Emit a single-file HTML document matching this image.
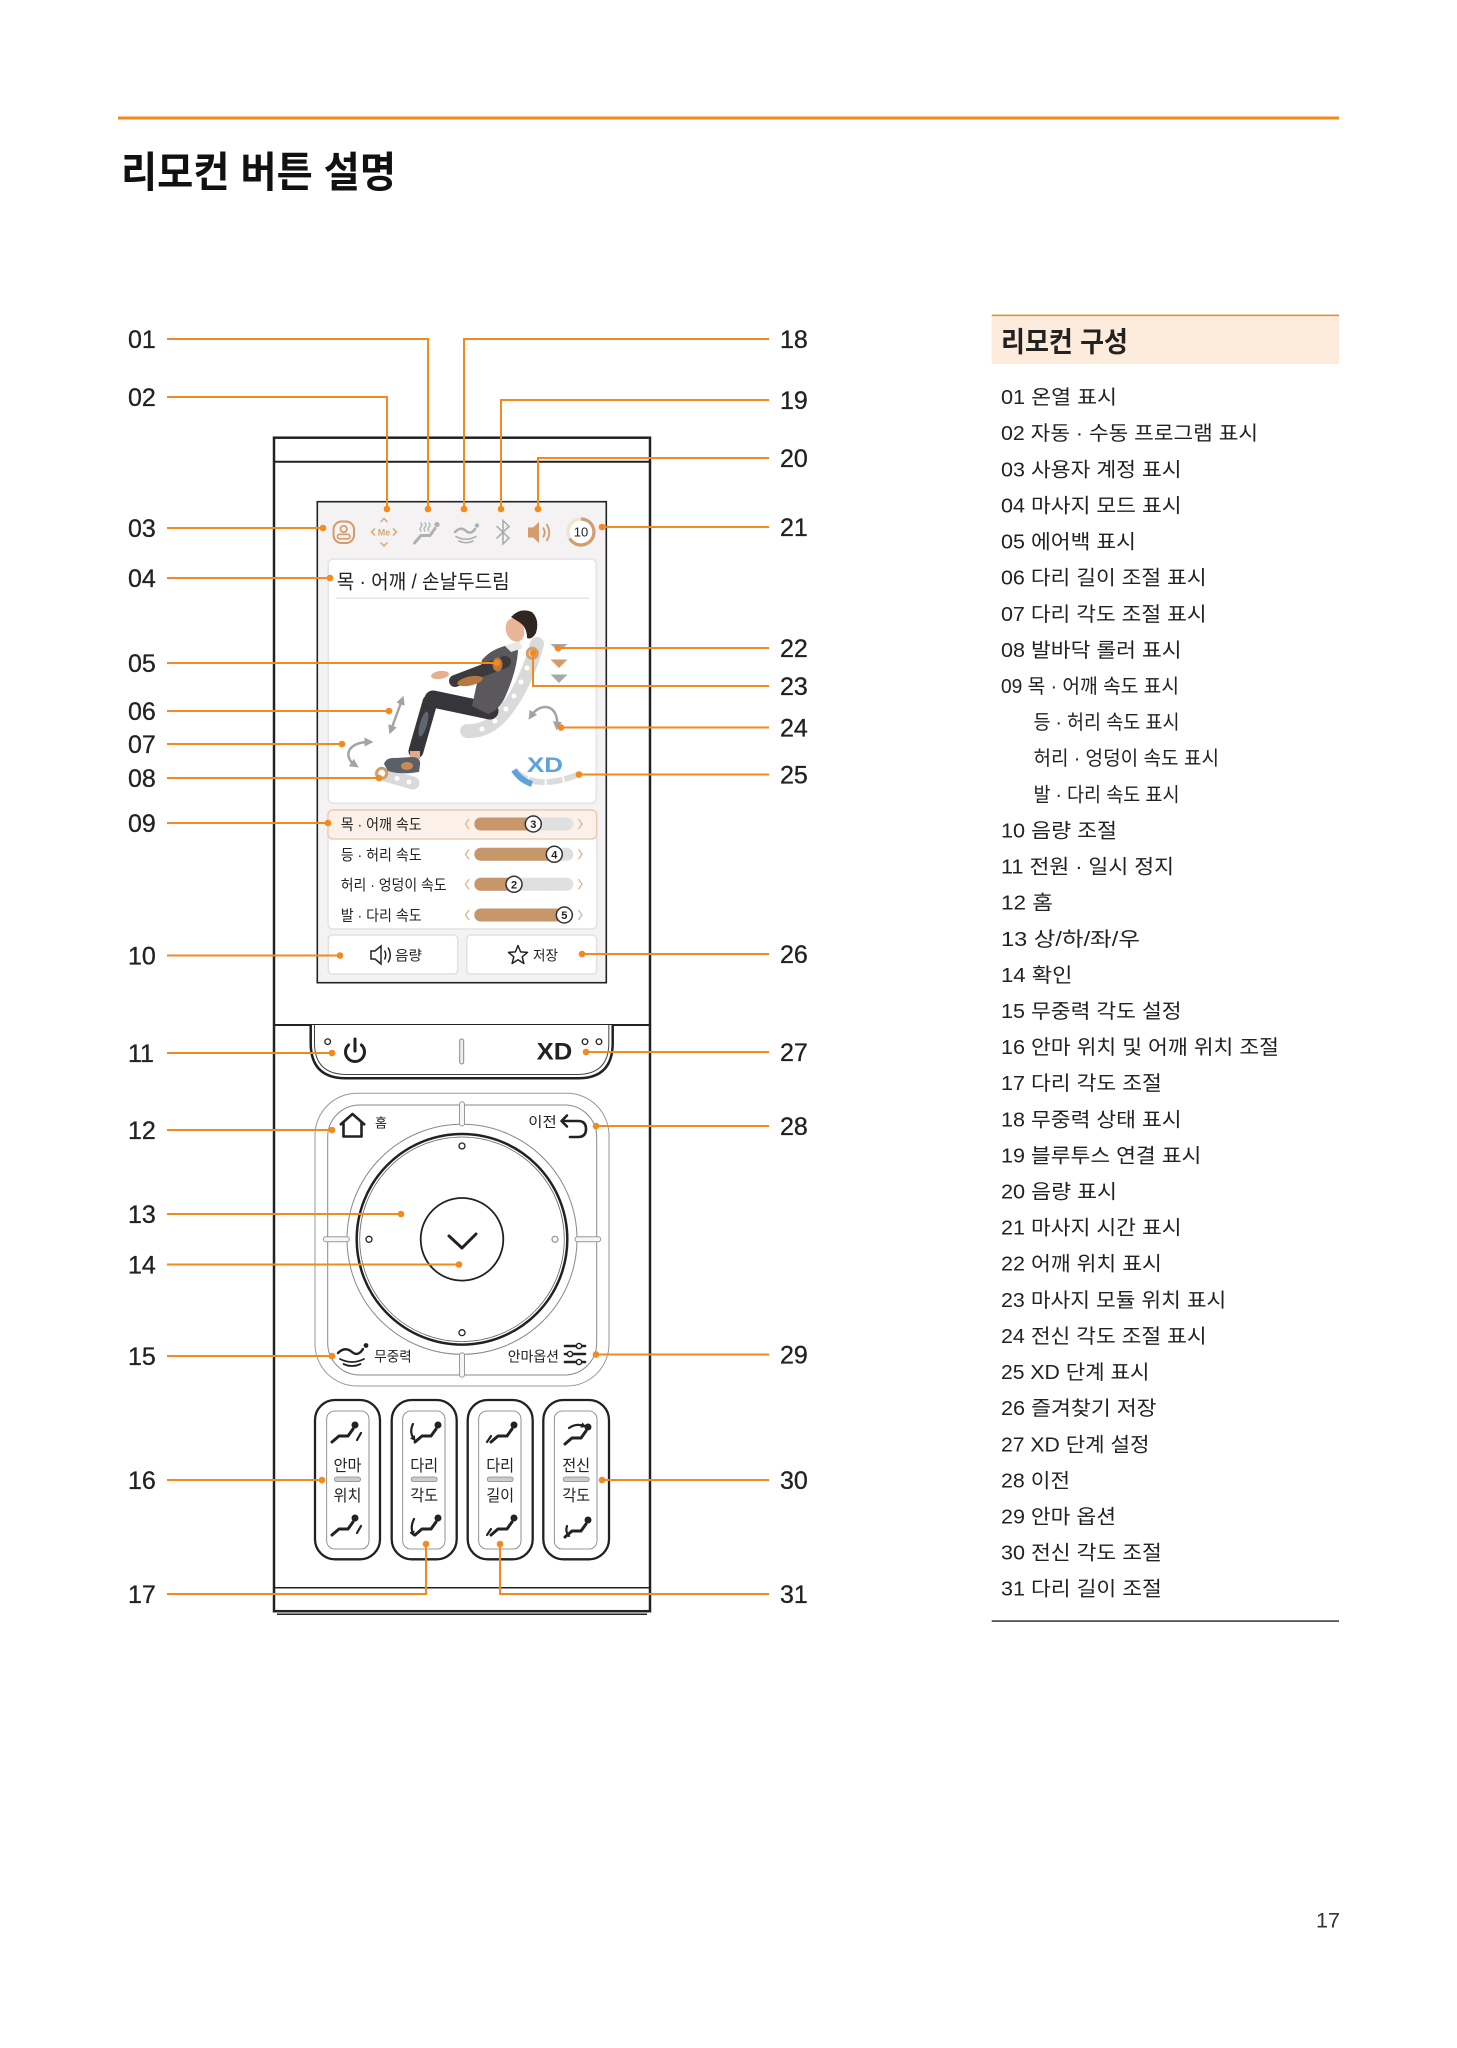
<!DOCTYPE html>
<html><head><meta charset="utf-8">
<style>
html,body{margin:0;padding:0;background:#fff;}
svg{display:block;}
text{font-family:"Liberation Sans","Noto Sans CJK KR",sans-serif;}
</style></head><body>
<svg width="1457" height="2048" viewBox="0 0 1457 2048" xmlns="http://www.w3.org/2000/svg">
<defs>
<marker id="ah" viewBox="0 0 10 10" refX="5" refY="5" markerWidth="3.6" markerHeight="3.6" orient="auto-start-reverse"><path d="M0,0 L10,5 L0,10 z" fill="#a3a3a3"/></marker>
<marker id="ahk" viewBox="0 0 10 10" refX="5" refY="5" markerWidth="2.6" markerHeight="2.6" orient="auto-start-reverse"><path d="M0,0 L10,5 L0,10 z" fill="#222"/></marker>
<g id="rc"><path d="M-13,8 L-6,2 L3,2 L8,-5" fill="none" stroke="#222" stroke-width="3" stroke-linecap="round" stroke-linejoin="round"/><circle cx="10" cy="-9" r="2.4" fill="#222"/></g>
</defs>
<rect width="1457" height="2048" fill="#fff"/>

<!-- top rule & title -->
<rect x="118" y="116.5" width="1221" height="3" fill="#f08a1c"/>
<text x="121" y="187" font-size="42" font-weight="bold" fill="#111" textLength="275" lengthAdjust="spacingAndGlyphs">리모컨 버튼 설명</text>

<!-- right panel -->
<rect x="991.7" y="315.3" width="347.3" height="48.7" fill="#fdebdc"/>
<rect x="991.7" y="314.6" width="347.3" height="1.5" fill="#f08a1c"/>
<text x="1001" y="351.4" font-size="28" font-weight="bold" fill="#222" textLength="127" lengthAdjust="spacingAndGlyphs">리모컨 구성</text>
<g font-size="20" fill="#222">
<text x="1001" y="404.1" textLength="116" lengthAdjust="spacingAndGlyphs">01 온열 표시</text>
<text x="1001" y="440.2" textLength="257" lengthAdjust="spacingAndGlyphs">02 자동 · 수동 프로그램 표시</text>
<text x="1001" y="476.3" textLength="180.6" lengthAdjust="spacingAndGlyphs">03 사용자 계정 표시</text>
<text x="1001" y="512.4" textLength="180.6" lengthAdjust="spacingAndGlyphs">04 마사지 모드 표시</text>
<text x="1001" y="548.5" textLength="135" lengthAdjust="spacingAndGlyphs">05 에어백 표시</text>
<text x="1001" y="584.7" textLength="205.6" lengthAdjust="spacingAndGlyphs">06 다리 길이 조절 표시</text>
<text x="1001" y="620.8" textLength="205.6" lengthAdjust="spacingAndGlyphs">07 다리 각도 조절 표시</text>
<text x="1001" y="656.9" textLength="180.6" lengthAdjust="spacingAndGlyphs">08 발바닥 롤러 표시</text>
<text x="1001" y="693.0" textLength="178" lengthAdjust="spacingAndGlyphs">09 목 · 어깨 속도 표시</text>
<text x="1033.5" y="729.1" textLength="146" lengthAdjust="spacingAndGlyphs">등 · 허리 속도 표시</text>
<text x="1033.5" y="765.2" textLength="185.5" lengthAdjust="spacingAndGlyphs">허리 · 엉덩이 속도 표시</text>
<text x="1033.5" y="801.3" textLength="146" lengthAdjust="spacingAndGlyphs">발 · 다리 속도 표시</text>
<text x="1001" y="837.4" textLength="116" lengthAdjust="spacingAndGlyphs">10 음량 조절</text>
<text x="1001" y="873.5" textLength="173" lengthAdjust="spacingAndGlyphs">11 전원 · 일시 정지</text>
<text x="1001" y="909.6" textLength="52" lengthAdjust="spacingAndGlyphs">12 홈</text>
<text x="1001" y="945.8" textLength="139" lengthAdjust="spacingAndGlyphs">13 상/하/좌/우</text>
<text x="1001" y="981.9" textLength="71.5" lengthAdjust="spacingAndGlyphs">14 확인</text>
<text x="1001" y="1018.0" textLength="180.6" lengthAdjust="spacingAndGlyphs">15 무중력 각도 설정</text>
<text x="1001" y="1054.1" textLength="278" lengthAdjust="spacingAndGlyphs">16 안마 위치 및 어깨 위치 조절</text>
<text x="1001" y="1090.2" textLength="160.9" lengthAdjust="spacingAndGlyphs">17 다리 각도 조절</text>
<text x="1001" y="1126.3" textLength="180.6" lengthAdjust="spacingAndGlyphs">18 무중력 상태 표시</text>
<text x="1001" y="1162.4" textLength="200.3" lengthAdjust="spacingAndGlyphs">19 블루투스 연결 표시</text>
<text x="1001" y="1198.5" textLength="116" lengthAdjust="spacingAndGlyphs">20 음량 표시</text>
<text x="1001" y="1234.6" textLength="180.6" lengthAdjust="spacingAndGlyphs">21 마사지 시간 표시</text>
<text x="1001" y="1270.7" textLength="160.9" lengthAdjust="spacingAndGlyphs">22 어깨 위치 표시</text>
<text x="1001" y="1306.9" textLength="225.3" lengthAdjust="spacingAndGlyphs">23 마사지 모듈 위치 표시</text>
<text x="1001" y="1343.0" textLength="205.6" lengthAdjust="spacingAndGlyphs">24 전신 각도 조절 표시</text>
<text x="1001" y="1379.1" textLength="148.5" lengthAdjust="spacingAndGlyphs">25 XD 단계 표시</text>
<text x="1001" y="1415.2" textLength="155.6" lengthAdjust="spacingAndGlyphs">26 즐겨찾기 저장</text>
<text x="1001" y="1451.3" textLength="148.5" lengthAdjust="spacingAndGlyphs">27 XD 단계 설정</text>
<text x="1001" y="1487.4" textLength="69" lengthAdjust="spacingAndGlyphs">28 이전</text>
<text x="1001" y="1523.5" textLength="115" lengthAdjust="spacingAndGlyphs">29 안마 옵션</text>
<text x="1001" y="1559.6" textLength="160.9" lengthAdjust="spacingAndGlyphs">30 전신 각도 조절</text>
<text x="1001" y="1595.7" textLength="160.9" lengthAdjust="spacingAndGlyphs">31 다리 길이 조절</text>
</g>
<rect x="991.7" y="1620.3" width="347.3" height="1.5" fill="#333"/>

<text x="1316" y="1927.5" font-size="21" fill="#333" textLength="24" lengthAdjust="spacingAndGlyphs">17</text>

<!-- number labels -->
<g font-size="25" fill="#222" stroke="#222" stroke-width="0.3">
<text x="128" y="348">01</text>
<text x="128" y="406">02</text>
<text x="128" y="537">03</text>
<text x="128" y="587">04</text>
<text x="128" y="672">05</text>
<text x="128" y="720">06</text>
<text x="128" y="753">07</text>
<text x="128" y="787">08</text>
<text x="128" y="832">09</text>
<text x="128" y="964.5">10</text>
<text x="128" y="1062">11</text>
<text x="128" y="1139">12</text>
<text x="128" y="1223">13</text>
<text x="128" y="1273.5">14</text>
<text x="128" y="1365">15</text>
<text x="128" y="1489">16</text>
<text x="128" y="1603">17</text>
<text x="780" y="348">18</text>
<text x="780" y="409">19</text>
<text x="780" y="467">20</text>
<text x="780" y="536">21</text>
<text x="780" y="657">22</text>
<text x="780" y="695">23</text>
<text x="780" y="736.5">24</text>
<text x="780" y="783.5">25</text>
<text x="780" y="963">26</text>
<text x="780" y="1061">27</text>
<text x="780" y="1135">28</text>
<text x="780" y="1363.5">29</text>
<text x="780" y="1489">30</text>
<text x="780" y="1603">31</text>
</g>

<!-- remote frame -->
<rect x="274" y="437.7" width="376" height="1173.5" fill="#fff" stroke="#222" stroke-width="2.5"/>
<line x1="274" y1="461.7" x2="650" y2="461.7" stroke="#222" stroke-width="2"/>
<line x1="274" y1="1025" x2="650" y2="1025" stroke="#222" stroke-width="2"/>
<line x1="274" y1="1587.7" x2="650" y2="1587.7" stroke="#222" stroke-width="1.5"/>
<line x1="277" y1="1614.3" x2="647" y2="1614.3" stroke="#222" stroke-width="1.5"/>

<!-- screen -->
<rect x="317.3" y="501.7" width="289" height="481" fill="#f4f2f2" stroke="#222" stroke-width="1.6"/>

<!-- icon row -->
<rect x="333.5" y="521.5" width="20.5" height="21.5" rx="8" fill="none" stroke="#d29c6c" stroke-width="2"/>
<circle cx="343.7" cy="529" r="3.2" fill="none" stroke="#d29c6c" stroke-width="1.7"/>
<rect x="337.5" y="534.3" width="12.5" height="4.5" rx="2.2" fill="none" stroke="#d29c6c" stroke-width="1.6"/>
<g stroke="#d8a877" stroke-width="1.5" fill="none">
<polyline points="375,528.5 371.5,532 375,535.5"/><polyline points="393,528.5 396.5,532 393,535.5"/>
<polyline points="380.5,522 384,518.5 387.5,522"/><polyline points="380.5,542.5 384,546 387.5,542.5"/>
</g>
<text x="384" y="535.3" font-size="9" font-weight="bold" fill="#d8a877" text-anchor="middle">Me</text>
<g stroke="#b0b0b0" fill="none" stroke-linecap="round">
<path d="M414.5,543 L421,535.5 L430,535.5 L435,528.5" stroke-width="3"/>
<path d="M421,531 q-2,-2 0,-4 q2,-2 0,-4 M425,531 q-2,-2 0,-4 q2,-2 0,-4 M429,531 q-2,-2 0,-4 q2,-2 0,-4" stroke-width="1.3"/>
<path d="M455,532 Q461,526 466,531 Q471,535 475,529" stroke-width="2.5"/>
<path d="M456,536.5 Q466,542 476,536.5 M459,541 Q466,544.5 473,541" stroke-width="1.6"/>
<path d="M497,526.5 L509,538 L503,544 L503,520.5 L509,526.5 L497,538" stroke-width="1.5" stroke="#a8a8a8"/>
</g>
<circle cx="437" cy="524.5" r="2.6" fill="#b0b0b0"/>
<circle cx="477" cy="525.5" r="2.2" fill="#b0b0b0"/>
<path d="M528,527.5 L533,527.5 L539,522 L539,543 L533,537.5 L528,537.5 Z" fill="#d29c6c"/>
<path d="M543,527.5 Q546.5,532.5 543,537.5 M546.5,524 Q552,532.5 546.5,541" stroke="#d29c6c" stroke-width="1.8" fill="none"/>
<circle cx="581" cy="532" r="13" fill="#fff" stroke="#f2e2d2" stroke-width="3.2"/>
<path d="M581,519 A13,13 0 1 1 569.7,538.5" fill="none" stroke="#d29c6c" stroke-width="3.2"/>
<text x="581" y="536.6" font-size="13" fill="#222" text-anchor="middle">10</text>

<!-- mode card -->
<rect x="328.3" y="559" width="268" height="244.3" rx="5" fill="#fff" stroke="#e4e2e2" stroke-width="1.5"/>
<text x="336.7" y="588.3" font-size="20" fill="#222" textLength="173" lengthAdjust="spacingAndGlyphs">목 · 어깨 / 손날두드림</text>
<line x1="336" y1="598.3" x2="589" y2="598.3" stroke="#e6e6e6" stroke-width="1.5"/>

<!-- figure -->
<path d="M537,644 C533,660 522,690 506,710 C496,723 484,732 467,731" stroke="#dadada" stroke-width="14" fill="none" stroke-linecap="round"/>
<g fill="#fff"><circle cx="527" cy="668" r="2.5"/><circle cx="521" cy="682" r="2.5"/><circle cx="514" cy="696" r="2.5"/><circle cx="506" cy="709" r="2.5"/><circle cx="495" cy="721" r="2.5"/><circle cx="482" cy="729" r="2.5"/></g>
<line x1="381" y1="774" x2="413" y2="783" stroke="#dadada" stroke-width="13" stroke-linecap="round"/>
<circle cx="397" cy="778.5" r="2.5" fill="#fff"/><circle cx="409" cy="782" r="2.5" fill="#fff"/>
<circle cx="381.7" cy="773.3" r="5" fill="#fff" stroke="#d29c6c" stroke-width="3"/>
<line x1="490" y1="711" x2="433" y2="699" stroke="#38353a" stroke-width="17" stroke-linecap="round"/>
<line x1="430" y1="702" x2="416" y2="751" stroke="#38353a" stroke-width="15" stroke-linecap="round"/>
<ellipse cx="423.5" cy="724" rx="3.5" ry="13" transform="rotate(16 423.5 724)" fill="#5f6672"/>
<rect x="410" y="751" width="10" height="8" fill="#e0ab8a"/>
<path d="M384,764 Q386,757 396,758 L412,757 Q421,757 420,765 L419,772 Q400,775 388,771 Z" fill="#59606a"/>
<ellipse cx="407" cy="766" rx="6" ry="4" fill="#c88a52"/>
<path d="M482,660 Q492,648 510,645 L518,650 Q517,670 506,695 Q500,710 488,714 L472,706 Z" fill="#5a585c"/>
<path d="M505,646 L519,641 L523,648 L511,652 Z" fill="#e8e8e8"/>
<line x1="505" y1="662" x2="455" y2="681" stroke="#3d3a3c" stroke-width="12" stroke-linecap="round"/>
<ellipse cx="440" cy="675" rx="9" ry="4" transform="rotate(-8 440 675)" fill="#e6b08f"/>
<ellipse cx="497.5" cy="664.5" rx="5" ry="7" fill="#b8773f"/>
<ellipse cx="470" cy="681" rx="13" ry="4.5" transform="rotate(-12 470 681)" fill="#b8773f"/>
<ellipse cx="515" cy="630" rx="9" ry="12" transform="rotate(-20 515 630)" fill="#e8b597"/>
<path d="M511,617 Q520,607 532,612 Q540,620 536,633 Q532,640 527,638 Q527,627 519,622 Z" fill="#2f2622"/>
<circle cx="532.3" cy="653.3" r="5" fill="#fff" stroke="#d29c6c" stroke-width="3"/>
<polygon points="550.5,644 567.5,644 559,652" fill="#a9a9a9"/>
<polygon points="550.5,659.5 567.5,659.5 559,668" fill="#d29c6c"/>
<polygon points="550.5,674.5 567.5,674.5 559,683" fill="#a9a9a9"/>
<line x1="402" y1="700" x2="391" y2="730" stroke="#a3a3a3" stroke-width="2.5" marker-start="url(#ah)" marker-end="url(#ah)"/>
<path d="M355,765 C343,757 347,742 369,742" fill="none" stroke="#a3a3a3" stroke-width="2.5" marker-start="url(#ah)" marker-end="url(#ah)"/>
<path d="M531,716 C541,701 559,705 557,726" fill="none" stroke="#a3a3a3" stroke-width="2.5" marker-start="url(#ah)" marker-end="url(#ah)"/>
<path d="M514,770 Q535,792 580,774" fill="none" stroke="#dcdcdc" stroke-width="6" stroke-dasharray="16 2"/>
<path d="M514,770 Q520,780 532,784" fill="none" stroke="#5da1dd" stroke-width="6"/>
<text x="527" y="772" font-size="21" font-weight="bold" fill="#5da1dd" textLength="36" lengthAdjust="spacingAndGlyphs">XD</text>

<!-- speed card -->
<rect x="328" y="810" width="268.7" height="119" rx="5" fill="#fff" stroke="#e4e2e2" stroke-width="1.5"/>
<rect x="328" y="810" width="268.7" height="29" rx="5" fill="#fbf1e9" stroke="#e9cdb3" stroke-width="1.5"/>
<g font-size="15" fill="#222">
<text x="340.7" y="829.7" textLength="81" lengthAdjust="spacingAndGlyphs">목 · 어깨 속도</text>
<text x="340.7" y="860" textLength="81" lengthAdjust="spacingAndGlyphs">등 · 허리 속도</text>
<text x="340.7" y="890" textLength="106" lengthAdjust="spacingAndGlyphs">허리 · 엉덩이 속도</text>
<text x="340.7" y="920.7" textLength="81" lengthAdjust="spacingAndGlyphs">발 · 다리 속도</text>
</g>
<g>
<rect x="474.3" y="817.5" width="99" height="13" rx="6.5" fill="#e0e0e0"/>
<rect x="474.3" y="817.5" width="59" height="13" rx="6.5" fill="#c8966b"/>
<rect x="474.3" y="847.8" width="99" height="13" rx="6.5" fill="#e0e0e0"/>
<rect x="474.3" y="847.8" width="80" height="13" rx="6.5" fill="#c8966b"/>
<rect x="474.3" y="877.8" width="99" height="13" rx="6.5" fill="#e0e0e0"/>
<rect x="474.3" y="877.8" width="40" height="13" rx="6.5" fill="#c8966b"/>
<rect x="474.3" y="908.5" width="99" height="13" rx="6.5" fill="#e0e0e0"/>
<rect x="474.3" y="908.5" width="90" height="13" rx="6.5" fill="#c8966b"/>
</g>
<g fill="#fff" stroke="#333" stroke-width="1.5">
<circle cx="533.3" cy="824" r="8"/><circle cx="554.3" cy="854.3" r="8"/><circle cx="514" cy="884.3" r="8"/><circle cx="564.3" cy="915" r="8"/>
</g>
<g font-size="11" font-weight="bold" fill="#222" text-anchor="middle">
<text x="533.3" y="828">3</text><text x="554.3" y="858.3">4</text><text x="514" y="888.3">2</text><text x="564.3" y="919">5</text>
</g>
<g fill="none" stroke="#d9b490" stroke-width="1.3">
<polyline points="469,819 465.5,824 469,829"/><polyline points="578.5,819 582,824 578.5,829"/>
<polyline points="469,849.3 465.5,854.3 469,859.3"/><polyline points="578.5,849.3 582,854.3 578.5,859.3"/>
<polyline points="469,879.3 465.5,884.3 469,889.3"/><polyline points="578.5,879.3 582,884.3 578.5,889.3"/>
<polyline points="469,910 465.5,915 469,920"/><polyline points="578.5,910 582,915 578.5,920" stroke="#bbb"/>
</g>

<!-- volume / save buttons -->
<rect x="328.3" y="935" width="129.4" height="39" rx="4" fill="#fff" stroke="#e2e0e0" stroke-width="1.5"/>
<rect x="466.7" y="935" width="130" height="39" rx="4" fill="#fff" stroke="#e2e0e0" stroke-width="1.5"/>
<path d="M371,951 L375,951 L381,946 L381,964 L375,959 L371,959 Z" fill="none" stroke="#222" stroke-width="1.5"/>
<path d="M384.5,950.5 Q387,955 384.5,959.5 M388,947.5 Q392.5,955 388,962.5" fill="none" stroke="#222" stroke-width="1.5"/>
<text x="395" y="960.3" font-size="14" fill="#222" textLength="27" lengthAdjust="spacingAndGlyphs">음량</text>
<polygon points="518,945.5 520.6,951.9 527.5,952.4 522.2,956.8 523.9,963.5 518,959.8 512.1,963.5 513.8,956.8 508.5,952.4 515.4,951.9" fill="none" stroke="#222" stroke-width="1.5" stroke-linejoin="round"/>
<text x="533" y="960.3" font-size="14" fill="#222" textLength="25" lengthAdjust="spacingAndGlyphs">저장</text>

<!-- power / XD bar -->
<path d="M310.7,1025 L310.7,1043 Q310.7,1078.3 346,1078.3 L578,1078.3 Q612.7,1078.3 612.7,1043 L612.7,1025" fill="#fff" stroke="#222" stroke-width="2.5"/>
<path d="M314.5,1025 L314.5,1043 Q314.5,1074.5 347,1074.5 L577,1074.5 Q608.8,1074.5 608.8,1043 L608.8,1025" fill="none" stroke="#444" stroke-width="1"/>
<path d="M348.6,1045 A9.5,9.5 0 1 0 361.4,1045" fill="none" stroke="#222" stroke-width="3" stroke-linecap="round"/>
<line x1="355" y1="1039" x2="355" y2="1051" stroke="#222" stroke-width="3" stroke-linecap="round"/>
<text x="536.7" y="1059.6" font-size="24" font-weight="bold" fill="#222" textLength="35.6" lengthAdjust="spacingAndGlyphs">XD</text>
<g fill="none" stroke="#222" stroke-width="1.3"><circle cx="327.7" cy="1041.7" r="2.8"/><circle cx="585" cy="1041.7" r="2.8"/><circle cx="599" cy="1041.7" r="2.8"/></g>
<rect x="459.7" y="1039" width="4" height="25" rx="2" fill="#eee" stroke="#888" stroke-width="1"/>

<!-- d-pad -->
<rect x="315" y="1093.3" width="294" height="292.7" rx="42" fill="none" stroke="#999" stroke-width="1"/>
<rect x="327.7" y="1105" width="269" height="270" rx="32" fill="none" stroke="#888" stroke-width="1"/>
<circle cx="462" cy="1239.3" r="115" fill="none" stroke="#888" stroke-width="1"/>
<circle cx="462" cy="1239.3" r="105.3" fill="#fff" stroke="#222" stroke-width="2.5"/>
<circle cx="462" cy="1239.3" r="102.3" fill="none" stroke="#666" stroke-width="0.8"/>
<circle cx="462" cy="1239.3" r="41.3" fill="none" stroke="#222" stroke-width="1.8"/>
<polyline points="449,1236 462,1248 476,1234" fill="none" stroke="#222" stroke-width="3" stroke-linecap="round" stroke-linejoin="round"/>
<g fill="#fff" stroke="#222" stroke-width="1.3"><circle cx="462" cy="1146" r="3"/><circle cx="462" cy="1332.7" r="3"/><circle cx="369" cy="1239.3" r="3"/><circle cx="555" cy="1239.3" r="3" stroke="#999"/></g>
<g fill="#f6f6f6" stroke="#999" stroke-width="1">
<rect x="459.5" y="1101.7" width="5" height="24.3" rx="2.5"/>
<rect x="459.5" y="1352.7" width="5" height="24.6" rx="2.5"/>
<rect x="323.3" y="1236.8" width="26" height="5" rx="2.5"/>
<rect x="575" y="1236.8" width="25.7" height="5" rx="2.5"/>
</g>
<path d="M340,1125 L352.5,1114 L365,1125 M343.5,1122.5 L343.5,1136.5 L361.5,1136.5 L361.5,1122.5" fill="none" stroke="#222" stroke-width="2.6" stroke-linejoin="round"/>
<text x="375" y="1127.5" font-size="13" fill="#222">홈</text>
<text x="528.3" y="1127" font-size="14" fill="#222" textLength="28.4" lengthAdjust="spacingAndGlyphs">이전</text>
<path d="M562,1121 L578,1121 Q586,1121 586,1129 Q586,1137 578,1137 L570,1137" fill="none" stroke="#222" stroke-width="2.6" stroke-linecap="round"/>
<polyline points="567,1115.5 561.5,1121 567,1126.5" fill="none" stroke="#222" stroke-width="2.6" stroke-linecap="round" stroke-linejoin="round"/>
<path d="M338,1353 Q345,1346 352,1352 Q358,1357 363,1349" fill="none" stroke="#222" stroke-width="2.4" stroke-linecap="round"/>
<circle cx="366" cy="1345.5" r="2.4" fill="#222"/>
<path d="M340,1359 Q352,1365 364,1359 M343.5,1364 Q352,1368 360.5,1364" fill="none" stroke="#222" stroke-width="1.8" stroke-linecap="round"/>
<text x="374.3" y="1361.3" font-size="14" fill="#222" textLength="37.4" lengthAdjust="spacingAndGlyphs">무중력</text>
<text x="507.7" y="1361.3" font-size="14" fill="#222" textLength="51.3" lengthAdjust="spacingAndGlyphs">안마옵션</text>
<g stroke="#222" stroke-width="2.6" stroke-linecap="round"><line x1="565" y1="1346" x2="585" y2="1346"/><line x1="565" y1="1354" x2="585" y2="1354"/><line x1="565" y1="1362" x2="585" y2="1362"/></g>
<g fill="#fff" stroke="#222" stroke-width="1.4"><circle cx="579" cy="1346" r="2.6"/><circle cx="570" cy="1354" r="2.6"/><circle cx="579" cy="1362" r="2.6"/></g>

<!-- bottom four buttons -->
<g fill="#fff" stroke="#222" stroke-width="2.3">
<rect x="315" y="1400" width="65" height="159.3" rx="20"/>
<rect x="391.7" y="1400" width="65" height="159.3" rx="20"/>
<rect x="467.7" y="1400" width="65" height="159.3" rx="20"/>
<rect x="543.3" y="1400" width="65.7" height="159.3" rx="20"/>
</g>
<g fill="none" stroke="#777" stroke-width="0.8">
<rect x="326.7" y="1411" width="42.3" height="138" rx="8"/>
<rect x="402.7" y="1411" width="42.3" height="138" rx="8"/>
<rect x="478.7" y="1411" width="42.3" height="138" rx="8"/>
<rect x="554.3" y="1411" width="42.7" height="138" rx="8"/>
</g>
<g fill="#ccc" stroke="#888" stroke-width="0.8">
<rect x="334.5" y="1477" width="26" height="4.6" rx="2.3"/>
<rect x="411.2" y="1477" width="26" height="4.6" rx="2.3"/>
<rect x="487.2" y="1477" width="26" height="4.6" rx="2.3"/>
<rect x="563.2" y="1477" width="26" height="4.6" rx="2.3"/>
</g>
<g font-size="16" fill="#222" text-anchor="middle">
<text x="347.5" y="1471" textLength="28" lengthAdjust="spacingAndGlyphs">안마</text>
<text x="347.5" y="1501" textLength="28" lengthAdjust="spacingAndGlyphs">위치</text>
<text x="424.2" y="1471" textLength="28" lengthAdjust="spacingAndGlyphs">다리</text>
<text x="424.2" y="1501" textLength="28" lengthAdjust="spacingAndGlyphs">각도</text>
<text x="500.2" y="1471" textLength="28" lengthAdjust="spacingAndGlyphs">다리</text>
<text x="500.2" y="1501" textLength="28" lengthAdjust="spacingAndGlyphs">길이</text>
<text x="576.2" y="1471" textLength="28" lengthAdjust="spacingAndGlyphs">전신</text>
<text x="576.2" y="1501" textLength="28" lengthAdjust="spacingAndGlyphs">각도</text>
</g>
<g stroke="#222" stroke-width="2.2" fill="none" stroke-linecap="round">
<use href="#rc" x="345" y="1434"/><path d="M357,1440 L361,1433"/>
<use href="#rc" x="345" y="1527"/><path d="M357,1533 L361,1526"/>
<use href="#rc" x="428" y="1434"/><path d="M413,1424 Q409,1432 414,1439" marker-end="url(#ahk)"/>
<use href="#rc" x="428" y="1527"/><path d="M414,1519 Q410,1527 413,1534" marker-end="url(#ahk)"/>
<use href="#rc" x="504" y="1434"/><path d="M487,1442 L491,1436"/>
<use href="#rc" x="504" y="1527"/><path d="M487,1535 L491,1529"/>
<use href="#rc" x="578" y="1436"/><path d="M569,1428 Q576,1423 584,1426" marker-end="url(#ahk)"/>
<use href="#rc" x="578" y="1529"/><path d="M567,1526 Q565,1532 569,1536"/>
</g>

<!-- connectors -->
<g fill="none" stroke="#f28a1e" stroke-width="2">
<polyline points="167,339 428,339 428,509"/>
<polyline points="167,397 387,397 387,509"/>
<polyline points="769,339 464,339 464,509"/>
<polyline points="769,400 501,400 501,509"/>
<polyline points="769,458 538,458 538,509"/>
<polyline points="167,528 323,528"/>
<polyline points="602,527 769,527"/>
<polyline points="167,578 330,578"/>
<polyline points="167,663 497,663"/>
<polyline points="558,648 769,648"/>
<polyline points="533,653 533,686 769,686"/>
<polyline points="561,727.5 769,727.5"/>
<polyline points="579,774.5 769,774.5"/>
<polyline points="167,711 389,711"/>
<polyline points="167,744 342,744"/>
<polyline points="167,778 379,778"/>
<polyline points="167,823 328,823"/>
<polyline points="167,955.5 340,955.5"/>
<polyline points="582,954 769,954"/>
<polyline points="167,1053 332,1053"/>
<polyline points="586,1052 769,1052"/>
<polyline points="167,1130 332,1130"/>
<polyline points="596,1126 769,1126"/>
<polyline points="167,1214 401,1214"/>
<polyline points="167,1264.5 459,1264.5"/>
<polyline points="167,1356 332,1356"/>
<polyline points="596,1354.5 769,1354.5"/>
<polyline points="167,1480 322,1480"/>
<polyline points="602,1480 769,1480"/>
<polyline points="167,1594 426,1594 426,1544"/>
<polyline points="500,1544 500,1594 769,1594"/>
</g>
<g fill="#f28a1e">
<circle cx="428" cy="509" r="3.3"/><circle cx="387" cy="509" r="3.3"/><circle cx="464" cy="509" r="3.3"/><circle cx="501" cy="509" r="3.3"/><circle cx="538" cy="509" r="3.3"/>
<circle cx="323" cy="528" r="3.3"/><circle cx="602" cy="527" r="3.3"/><circle cx="330" cy="578" r="3.3"/><circle cx="497" cy="663" r="3.3"/>
<circle cx="558" cy="648" r="3.3"/><circle cx="533" cy="653" r="3.3"/><circle cx="561" cy="727.5" r="3.3"/><circle cx="579" cy="774.5" r="3.3"/>
<circle cx="389" cy="711" r="3.3"/><circle cx="342" cy="744" r="3.3"/><circle cx="379" cy="778" r="3.3"/><circle cx="328" cy="823" r="3.3"/>
<circle cx="340" cy="955.5" r="3.3"/><circle cx="582" cy="954" r="3.3"/><circle cx="332" cy="1053" r="3.3"/><circle cx="586" cy="1052" r="3.3"/>
<circle cx="332" cy="1130" r="3.3"/><circle cx="596" cy="1126" r="3.3"/><circle cx="401" cy="1214" r="3.3"/><circle cx="459" cy="1264.5" r="3.3"/>
<circle cx="332" cy="1356" r="3.3"/><circle cx="596" cy="1354.5" r="3.3"/><circle cx="322" cy="1480" r="3.3"/><circle cx="602" cy="1480" r="3.3"/>
<circle cx="426" cy="1544" r="3.3"/><circle cx="500" cy="1544" r="3.3"/>
</g>
</svg>
</body></html>
